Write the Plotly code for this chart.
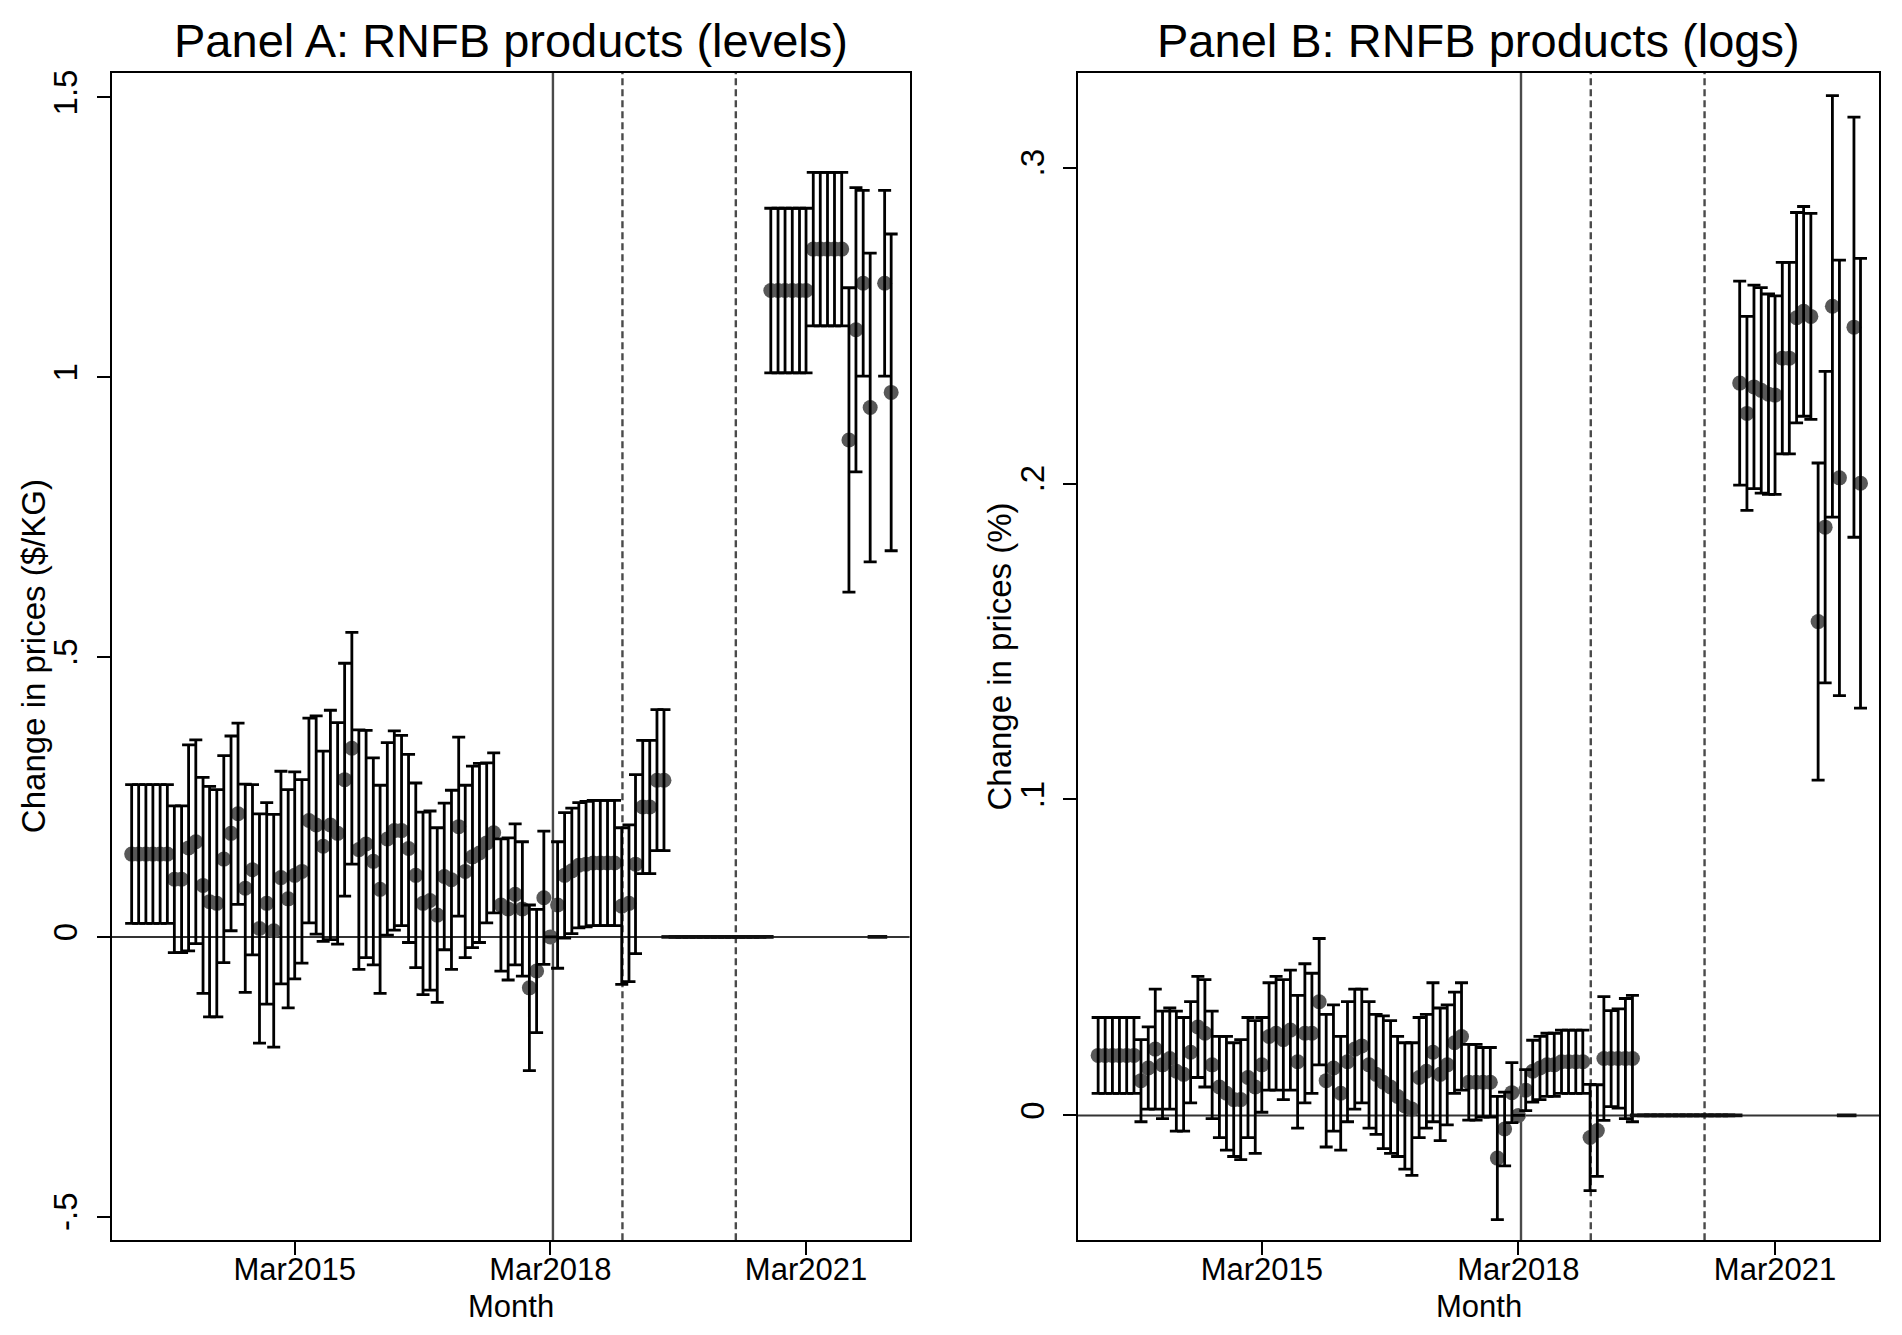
import pandas as pd
import plotly.graph_objects as go

# Monthly event-study estimates, Apr 2013 - Mar 2022 (None = omitted month, drawn as a flat cap at 0)
months = pd.date_range("2013-04-01", "2022-03-01", freq="MS")

# Panel A: levels ($/KG)
est_levels = [
    0.148, 0.148, 0.148, 0.148, 0.148, 0.148, 0.103, 0.103, 0.159, 0.170,
    0.092, 0.063, 0.060, 0.139, 0.185, 0.220, 0.087, 0.120, 0.015, 0.060,
    0.011, 0.106, 0.068, 0.110, 0.117, 0.208, 0.200, 0.162, 0.200, 0.185,
    0.281, 0.337, 0.156, 0.166, 0.135, 0.085, 0.175, 0.190, 0.190, 0.158,
    0.110, 0.060, 0.065, 0.039, 0.108, 0.102, 0.197, 0.117, 0.143, 0.150,
    0.168, 0.186, 0.057, 0.050, 0.076, 0.050, -0.091, -0.061, 0.070, 0.0,
    0.057, 0.110, 0.118, 0.128, 0.130, 0.132, 0.132, 0.132, 0.132, 0.055,
    0.060, 0.130, 0.232, 0.232, 0.280, 0.280,
    None, None, None, None, None, None, None, None, None, None, None, None, None, None,
    1.155, 1.155, 1.155, 1.155, 1.155, 1.155, 1.229, 1.229, 1.229, 1.229,
    1.229, 0.888, 1.085, 1.168, 0.946, None, 1.168, 0.973,
]
ci_levels = [
    0.124, 0.124, 0.124, 0.124, 0.124, 0.124, 0.131, 0.131, 0.184, 0.182,
    0.193, 0.206, 0.203, 0.185, 0.174, 0.162, 0.186, 0.152, 0.205, 0.180,
    0.208, 0.190, 0.195, 0.185, 0.164, 0.183, 0.195, 0.170, 0.205, 0.198,
    0.208, 0.207, 0.214, 0.203, 0.185, 0.186, 0.172, 0.178, 0.170, 0.168,
    0.165, 0.163, 0.160, 0.156, 0.131, 0.160, 0.160, 0.154, 0.162, 0.160,
    0.143, 0.143, 0.118, 0.127, 0.126, 0.120, 0.148, 0.110, 0.119, 0.0,
    0.113, 0.112, 0.112, 0.112, 0.112, 0.112, 0.112, 0.112, 0.112, 0.140,
    0.140, 0.160, 0.119, 0.119, 0.126, 0.126,
    None, None, None, None, None, None, None, None, None, None, None, None, None, None,
    0.147, 0.147, 0.147, 0.147, 0.147, 0.147, 0.137, 0.137, 0.137, 0.137,
    0.137, 0.272, 0.254, 0.166, 0.276, None, 0.166, 0.283,
]

# Panel B: logs (%)
est_logs = [
    0.019, 0.019, 0.019, 0.019, 0.019, 0.019, 0.011, 0.015, 0.021, 0.016,
    0.018, 0.014, 0.013, 0.020, 0.028, 0.026, 0.016, 0.009, 0.007, 0.005,
    0.005, 0.012, 0.009, 0.016, 0.025, 0.026, 0.024, 0.027, 0.017, 0.026,
    0.026, 0.036, 0.011, 0.015, 0.007, 0.017, 0.021, 0.022, 0.016, 0.013,
    0.0105, 0.009, 0.006, 0.003, 0.002, 0.012, 0.014, 0.020, 0.013, 0.016,
    0.023, 0.025, 0.0105, 0.0105, 0.0105, 0.0105, -0.0135, -0.0043, 0.0072, 0.0,
    0.008, 0.014, 0.015, 0.016, 0.016, 0.017, 0.017, 0.017, 0.017, -0.007,
    -0.0048, 0.018, 0.018, 0.018, 0.018, 0.018,
    None, None, None, None, None, None, None, None, None, None, None, None, None, None,
    0.2318, 0.2222, 0.2306, 0.2295, 0.2283, 0.2280, 0.2397, 0.2397, 0.2525, 0.2545,
    0.2529, 0.1563, 0.1862, 0.2561, 0.2018, None, 0.2495, 0.2001,
]
ci_logs = [
    0.012, 0.012, 0.012, 0.012, 0.012, 0.012, 0.013, 0.013, 0.019, 0.017,
    0.016, 0.019, 0.018, 0.016, 0.016, 0.017, 0.017, 0.016, 0.018, 0.018,
    0.019, 0.019, 0.021, 0.015, 0.017, 0.018, 0.019, 0.019, 0.021, 0.022,
    0.019, 0.020, 0.021, 0.020, 0.018, 0.019, 0.019, 0.018, 0.020, 0.019,
    0.021, 0.021, 0.019, 0.020, 0.021, 0.019, 0.018, 0.022, 0.021, 0.019,
    0.016, 0.017, 0.012, 0.012, 0.011, 0.011, 0.0195, 0.0117, 0.0095, 0.0,
    0.0065, 0.0098, 0.010, 0.010, 0.010, 0.010, 0.010, 0.010, 0.010, 0.0168,
    0.0145, 0.0196, 0.0152, 0.0157, 0.019, 0.020,
    None, None, None, None, None, None, None, None, None, None, None, None, None, None,
    0.0323, 0.0307, 0.0322, 0.0325, 0.0317, 0.0314, 0.0303, 0.0303, 0.0333, 0.0332,
    0.0326, 0.0502, 0.0493, 0.0667, 0.0689, None, 0.0665, 0.0712,
]

tick_dates = ["2015-03-01", "2018-03-01", "2021-03-01"]
tick_text = ["Mar2015", "Mar2018", "Mar2021"]
solid_line = "2018-03-12"
dashed_lines = ["2019-01-04", "2020-05-04"]

ytick_levels = [-0.5, 0, 0.5, 1, 1.5]
ytext_levels = ["-.5", "0", ".5", "1", "1.5"]
ytick_logs = [0, 0.1, 0.2, 0.3]
ytext_logs = ["0", ".1", ".2", ".3"]

FONT = "Liberation Sans, Arial, Helvetica, sans-serif"
W, H = 1902, 1335

panels = [
    dict(est=est_levels, ci=ci_levels, xa="x", ya="y",
         title="Panel A: RNFB products (levels)", ytitle="Change in prices ($/KG)",
         left=111.6, right=909.6, yrange=[-0.542, 1.544],
         yt=ytick_levels, ytt=ytext_levels),
    dict(est=est_logs, ci=ci_logs, xa="x2", ya="y2",
         title="Panel B: RNFB products (logs)", ytitle="Change in prices (%)",
         left=1078, right=1879, yrange=[-0.0395, 0.330],
         yt=ytick_logs, ytt=ytext_logs),
]

top_px, bottom_px = 70, 1240
ydom = [1 - bottom_px / H, 1 - top_px / H]
xrange = ["2013-01-05", "2022-05-19"]

fig = go.Figure()
shapes = []
annotations = []

for i, p in enumerate(panels):
    sfx = "" if i == 0 else "2"
    kept = [(m, v, c) for m, v, c in zip(months, p["est"], p["ci"]) if v is not None]
    omitted = [m for m, v in zip(months, p["est"]) if v is None]

    # point estimates
    fig.add_trace(go.Scatter(
        x=[k[0] for k in kept], y=[k[1] for k in kept], mode="markers",
        marker=dict(color="#585858", size=15, line=dict(width=0)),
        xaxis=p["xa"], yaxis=p["ya"], showlegend=False, hoverinfo="skip",
    ))
    # 95% CI caps drawn on top of the dots
    fig.add_trace(go.Scatter(
        x=[k[0] for k in kept], y=[k[1] for k in kept], mode="markers",
        marker=dict(size=1, color="rgba(0,0,0,0)"),
        error_y=dict(type="data", array=[k[2] for k in kept],
                     color="black", thickness=2.8, width=6.5),
        xaxis=p["xa"], yaxis=p["ya"], showlegend=False, hoverinfo="skip",
    ))
    # omitted months: flat caps at zero
    fig.add_trace(go.Scatter(
        x=omitted, y=[0] * len(omitted), mode="markers",
        marker=dict(symbol="line-ew", size=14, line=dict(color="#111111", width=3.6)),
        xaxis=p["xa"], yaxis=p["ya"], showlegend=False, hoverinfo="skip",
    ))

    xdom = [p["left"] / W, p["right"] / W]
    fig.update_layout(**{
        "xaxis" + sfx: dict(
            domain=xdom, type="date", range=xrange, anchor="y" + sfx,
            tickvals=tick_dates, ticktext=tick_text, ticks="outside", ticklen=13,
            tickwidth=2, tickcolor="black", ticklabelstandoff=-12,
            showline=True, mirror=True, linecolor="black", linewidth=2,
            showgrid=False, zeroline=False,
            tickfont=dict(family=FONT, size=31, color="black"),
        ),
        "yaxis" + sfx: dict(
            domain=ydom, range=p["yrange"], anchor="x" + sfx,
            tickvals=p["yt"], ticktext=p["ytt"], tickangle=-90,
            ticks="outside", ticklen=13, tickwidth=2, tickcolor="black",
            ticklabelstandoff=6,
            showline=True, mirror=True, linecolor="black", linewidth=2,
            showgrid=False, zeroline=False,
            tickfont=dict(family=FONT, size=33, color="black"),
        ),
    })

    # reference lines
    shapes.append(dict(type="line", xref=p["xa"] + " domain", yref=p["ya"],
                       x0=0, x1=1, y0=0, y1=0, layer="below",
                       line=dict(color="#333333", width=2)))
    shapes.append(dict(type="line", xref=p["xa"], yref=p["ya"] + " domain",
                       x0=solid_line, x1=solid_line, y0=0, y1=1, layer="below",
                       line=dict(color="#4a4a4a", width=2.4)))
    for d in dashed_lines:
        shapes.append(dict(type="line", xref=p["xa"], yref=p["ya"] + " domain",
                           x0=d, x1=d, y0=0, y1=1, layer="below",
                           line=dict(color="#4a4a4a", width=2.4, dash="7px,4px")))

    cx = (xdom[0] + xdom[1]) / 2
    annotations.append(dict(text=p["title"], x=cx, y=1 - 38 / H, xref="paper", yref="paper",
                            xanchor="center", yanchor="middle", showarrow=False,
                            font=dict(family=FONT, size=47, color="black")))
    annotations.append(dict(text="Month", x=cx, y=1 - 1306 / H, xref="paper", yref="paper",
                            xanchor="center", yanchor="middle", showarrow=False,
                            font=dict(family=FONT, size=31, color="black")))
    annotations.append(dict(text=p["ytitle"], x=(p["left"] - 78) / W, y=(ydom[0] + ydom[1]) / 2,
                            xref="paper", yref="paper", textangle=-90,
                            xanchor="center", yanchor="middle", showarrow=False,
                            font=dict(family=FONT, size=33, color="black")))

fig.update_layout(
    width=W, height=H, autosize=False,
    margin=dict(l=0, r=0, t=0, b=0),
    plot_bgcolor="white", paper_bgcolor="white",
    shapes=shapes, annotations=annotations,
    font=dict(family=FONT, color="black"),
)

fig.write_html("out.html", config={"displayModeBar": False},
               post_script="document.body.style.margin='0px';document.body.style.overflow='hidden';")
